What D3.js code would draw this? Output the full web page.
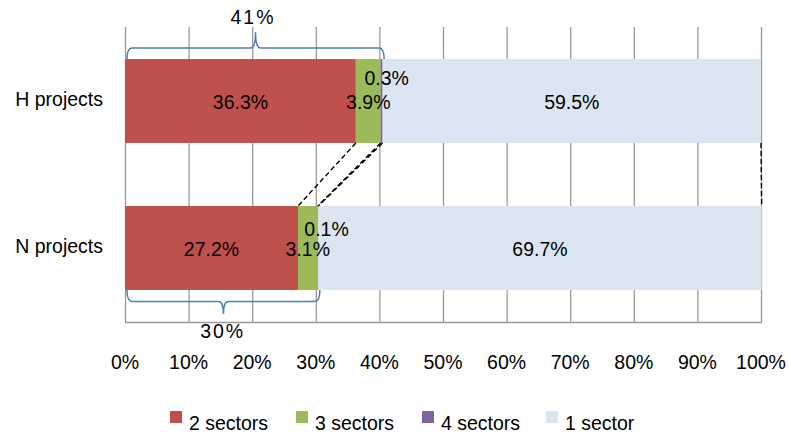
<!DOCTYPE html>
<html><head><meta charset="utf-8">
<script src="https://cdn.jsdelivr.net/npm/d3@7"></script>
<style>body{margin:0;background:#fff}svg{display:block;font-family:"Liberation Sans",Arial,sans-serif}</style>
</head><body><svg id="c" width="789" height="436"></svg>
<script>
const categories = ["H projects", "N projects"];
const seriesNames = ["2 sectors", "3 sectors", "4 sectors", "1 sector"];
const seriesColors = ["#C0504D", "#9BBB59", "#8064A2", "#DBE5F1"];
const valuesH = [36.3, 3.9, 0.3, 59.5];
const valuesN = [27.2, 3.1, 0.1, 69.7];
const tickValues = [0,10,20,30,40,50,60,70,80,90,100];
const braceLabels = ["41%", "30%"];

const FS = 19.5;
const svg = d3.select("#c");
const x = d3.scaleLinear().domain([0,100]).range([125,761]);
const y = d3.scaleBand().domain(categories).range([27,322]).paddingInner(0.429).paddingOuter(0.218);
const data = [valuesH, valuesN];

// gridlines
svg.append("g").selectAll("line").data(tickValues).join("line")
  .attr("x1", d=>x(d)+0.5).attr("x2", d=>x(d)+0.5).attr("y1", 27).attr("y2", 322)
  .attr("stroke", "#9a9a9a").attr("stroke-width", 1.3);
svg.append("line").attr("x1", x(0)).attr("x2", x(100)+1).attr("y1", 322.5).attr("y2", 322.5)
  .attr("stroke", "#9a9a9a").attr("stroke-width", 1.3);

// stacks
const stacked = data.map((vals, i) => {
  let c = 0;
  return vals.map((v, j) => { const s = {cat: categories[i], ci: i, j, v, x0: c, x1: c + v}; c += v; return s; });
});
const segs = stacked.flat();
svg.append("g").selectAll("rect").data(segs).join("rect")
  .attr("x", d=>x(d.x0)).attr("width", d=>Math.max(0, x(d.x1)-x(d.x0)))
  .attr("y", d=>y(d.cat)).attr("height", y.bandwidth())
  .attr("fill", d=>seriesColors[d.j]);

// series lines (dashed)
const sl = svg.append("g");
for (let j = 0; j < 4; j++) {
  const a = stacked[0][j], b = stacked[1][j];
  sl.append("line").attr("x1", x(a.x1)).attr("y1", y(categories[0]) + y.bandwidth())
    .attr("x2", x(b.x1)).attr("y2", y(categories[1]))
    .attr("stroke", "#000").attr("stroke-width", 1.4).attr("stroke-dasharray", "5,3");
}

// labels (purple labels nudged to avoid overlap, as in the original)
const labOff = (d) => d.j === 2 ? (d.ci === 0 ? [5,-21] : [8.5,-17]) : [0,2.5];
svg.append("g").selectAll("text").data(segs).join("text")
  .attr("x", d=>(x(d.x0)+x(d.x1))/2 + labOff(d)[0])
  .attr("y", d=>y(d.cat)+y.bandwidth()/2 + labOff(d)[1])
  .attr("text-anchor", "middle").attr("dominant-baseline", "middle")
  .attr("font-size", FS).attr("fill", "#000")
  .text(d=>d.v.toFixed(1) + "%");

// category labels
svg.append("g").selectAll("text").data(categories).join("text")
  .attr("x", 103).attr("y", d=>y(d)+y.bandwidth()/2)
  .attr("text-anchor", "end").attr("dominant-baseline", "middle")
  .attr("font-size", FS).text(d=>d);

// x tick labels
svg.append("g").selectAll("text").data(tickValues).join("text")
  .attr("x", d=>x(d)).attr("y", 364).attr("text-anchor", "middle").attr("dominant-baseline", "middle")
  .attr("font-size", FS).text(d=>d + "%");

// braces
function brace(x0, x1, yb, dir, h, tip) {
  const r = 5;
  const yl = yb + dir * h;
  const xm = (x0 + x1) / 2;
  return `M${x0},${yb} Q${x0},${yl} ${x0+r},${yl} L${xm-r},${yl} Q${xm},${yl} ${xm},${yl+dir*tip} Q${xm},${yl} ${xm+r},${yl} L${x1-r},${yl} Q${x1},${yl} ${x1},${yb}`;
}
const sumH = d3.sum(valuesH.slice(0,3)), sumN = d3.sum(valuesN.slice(0,3));
svg.append("path").attr("d", brace(x(0)+2, x(sumH)+1.5, y(categories[0]), -1, 11, 16))
  .attr("fill", "none").attr("stroke", "#4A7EBB").attr("stroke-width", 1.5);
svg.append("path").attr("d", brace(x(0)+2, x(sumN)+1.5, y(categories[1]) + y.bandwidth(), 1, 11.5, 12.5))
  .attr("fill", "none").attr("stroke", "#4A7EBB").attr("stroke-width", 1.5);
svg.append("text").attr("x", (x(0)+x(sumH))/2 - 2 + 1.2).attr("y", 19).attr("text-anchor", "middle")
  .attr("dominant-baseline", "middle").attr("font-size", FS).attr("letter-spacing", 2).text(braceLabels[0]);
svg.append("text").attr("x", (x(0)+x(sumN))/2 + 1).attr("y", 332.5).attr("text-anchor", "middle")
  .attr("dominant-baseline", "middle").attr("font-size", FS).attr("letter-spacing", 2).text(braceLabels[1]);

// legend
const legX = [170, 296, 422, 546];
const lg = svg.append("g").selectAll("g").data(seriesNames).join("g")
  .attr("transform", (d,i)=>`translate(${legX[i]},411)`);
lg.append("rect").attr("width", 12).attr("height", 12).attr("fill", (d,i)=>seriesColors[i]);
lg.append("text").attr("x", 19).attr("y", 19).attr("font-size", FS).text(d=>d);
</script></body></html>
